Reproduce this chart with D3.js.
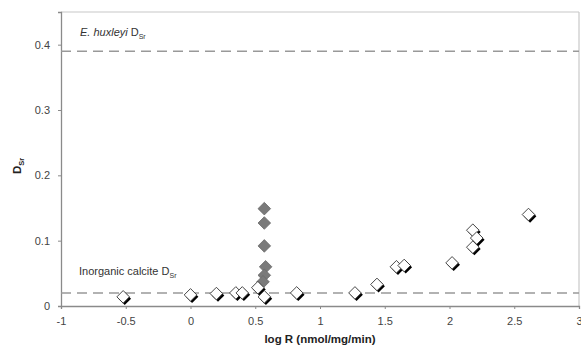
<!DOCTYPE html>
<html><head><meta charset="utf-8">
<script src="https://cdn.jsdelivr.net/npm/d3@7"></script>
<style>body{margin:0;background:#fff}text{font-family:"Liberation Sans",Arial,sans-serif}</style>
</head><body>
<svg id="c" width="581" height="353"></svg>
<script>
const xTicks = [-1, -0.5, 0, 0.5, 1, 1.5, 2, 2.5, 3];
const yTicks = [0, 0.1, 0.2, 0.3, 0.4];
const openLogR = [-0.52, 0.0, 0.2, 0.35, 0.4, 0.52, 0.57, 0.82, 1.27, 1.44, 1.59, 1.65, 2.02, 2.18, 2.21, 2.18, 2.61];
const openD    = [0.014, 0.017, 0.019, 0.02, 0.02, 0.028, 0.014, 0.02, 0.02, 0.033, 0.06, 0.062, 0.066, 0.116, 0.104, 0.09, 0.14];
const greyLogR = [0.57, 0.57, 0.57, 0.58, 0.57, 0.56];
const greyD    = [0.149, 0.127, 0.092, 0.06, 0.047, 0.037];
const refLines = [{name:"E. huxleyi", value:0.39}, {name:"Inorganic calcite", value:0.02}];

const svg = d3.select("#c");
const L = 61, R = 579, T = 12, B = 306;
const x = d3.scaleLinear().domain([-1, 3]).range([L, R]);
const y = d3.scaleLinear().domain([0, 0.45]).range([B, T]);

// frame
svg.append("line").attr("x1", L).attr("x2", R).attr("y1", T).attr("y2", T).attr("stroke", "#c8c8c8").attr("stroke-width", 1.2);
svg.append("line").attr("x1", R).attr("x2", R).attr("y1", T).attr("y2", B).attr("stroke", "#c8c8c8").attr("stroke-width", 1.2);

const xa = svg.append("g").attr("transform", `translate(0,${B})`)
  .call(d3.axisBottom(x).tickValues(xTicks).tickSize(3).tickPadding(8).tickFormat(d => String(d)));
const ya = svg.append("g").attr("transform", `translate(${L},0)`)
  .call(d3.axisLeft(y).tickValues(yTicks).tickSize(3).tickPadding(8).tickFormat(d => d === 0 ? "0" : d3.format(".1f")(d)));
[xa, ya].forEach(a => {
  a.select(".domain").attr("stroke", "#8a8a8a").attr("stroke-width", 1.3);
  a.selectAll(".tick line").attr("stroke", "#8a8a8a");
  a.selectAll(".tick text").attr("fill", "#444").attr("font-size", 11).attr("font-family", "Liberation Sans, Arial, sans-serif");
});

// reference dashed lines
svg.selectAll(".ref").data(refLines).join("line")
  .attr("x1", L).attr("x2", R).attr("y1", d => y(d.value)).attr("y2", d => y(d.value))
  .attr("stroke", "#999").attr("stroke-width", 1.5).attr("stroke-dasharray", "10,6");

// annotations
const a1 = svg.append("text").attr("x", 80).attr("y", 36).attr("font-size", 11).attr("fill", "#333");
a1.append("tspan").attr("font-style", "italic").text(refLines[0].name);
a1.append("tspan").text(" D");
a1.append("tspan").attr("font-size", 7).attr("dy", 3).text("Sr");
const a2 = svg.append("text").attr("x", 79).attr("y", 275).attr("font-size", 11).attr("fill", "#333");
a2.append("tspan").text(refLines[1].name + " D");
a2.append("tspan").attr("font-size", 7).attr("dy", 3).text("Sr");

// axis titles
svg.append("text").attr("x", 320).attr("y", 343).attr("text-anchor", "middle")
  .attr("font-size", 11.5).attr("font-weight", "bold").attr("fill", "#222").text("log R (nmol/mg/min)");
const yt = svg.append("text").attr("transform", "translate(21,166) rotate(-90)").attr("text-anchor", "middle")
  .attr("font-size", 11.5).attr("font-weight", "bold").attr("fill", "#222");
yt.append("tspan").text("D");
yt.append("tspan").attr("font-size", 7.5).attr("dy", 3).text("Sr");

// diamonds
const s = 6.3;
const dPath = (cx, cy) => `M${cx},${cy - s}L${cx + s},${cy}L${cx},${cy + s}L${cx - s},${cy}Z`;
const greyPts = greyLogR.map((v, i) => ({lx: v, d: greyD[i]}));
const openPts = openLogR.map((v, i) => ({lx: v, d: openD[i]}));

svg.selectAll(".grey").data(greyPts).join("path")
  .attr("d", p => dPath(x(p.lx), y(p.d)))
  .attr("fill", "#7a7a7a").attr("stroke", "#6a6a6a").attr("stroke-width", 0.8);

const g = svg.append("g");
openPts.forEach(p => {
  const cx = x(p.lx), cy = y(p.d);
  g.append("path").attr("d", dPath(cx + 1.6, cy + 1.8)).attr("fill", "#000");
  g.append("path").attr("d", dPath(cx, cy)).attr("fill", "#fff").attr("stroke", "#333").attr("stroke-width", 0.9);
});
</script>
</body></html>
